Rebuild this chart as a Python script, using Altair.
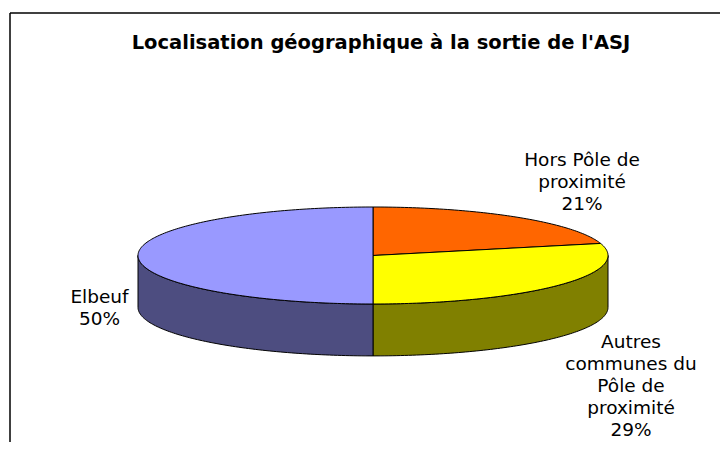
import altair as alt
import numpy as np
import pandas as pd

title = "Localisation géographique à la sortie de l'ASJ"
labels = ["Hors Pôle de\nproximité\n21%", "Autres\ncommunes du\nPôle de\nproximité\n29%", "Elbeuf\n50%"]
shares = [21, 29, 50]
top_colors = ["#FF6600", "#FFFF00", "#9999FF"]
side_colors = ["#804000", "#808000", "#4D4D80"]

OX, OY = 8, 48            # image position of the plot area's corner
W, H = 712, 394
DEPTH = 1.07              # height of the pie wall, in units of the flattened radius
FONT = "DejaVu Sans"

x_scale = alt.Scale(domain=[-1, 1], range=[138 - OX, 608 - OX])
y_scale = alt.Scale(domain=[-1, 1], range=[304 - OY, 207 - OY])
x_enc = alt.X("x:Q", scale=x_scale, axis=None)
y_enc = alt.Y("y:Q", scale=y_scale, axis=None)


def piece(points, fill):
    df = pd.DataFrame(points, columns=["x", "y"])
    df["i"] = range(len(df))
    return alt.Chart(df).mark_line(
        fill=fill, stroke="#000000", strokeWidth=1, interpolate="linear", clip=False
    ).encode(x=x_enc, y=y_enc, order="i:Q")


def arc(a0, a1, drop=0.0):
    t = np.linspace(a0, a1, max(2, int(abs(a1 - a0) * 60)))
    return list(zip(np.sin(t), np.cos(t) - drop))


edges = 2 * np.pi * np.cumsum([0] + shares) / sum(shares)
layers = []

# walls: only the part of each slice that faces the viewer
for k in range(len(shares)):
    a0, a1 = max(edges[k], np.pi / 2), min(edges[k + 1], 3 * np.pi / 2)
    if a1 > a0:
        top = arc(a0, a1)
        low = arc(a1, a0, DEPTH)
        layers.append(piece(top + low + top[:1], side_colors[k]))

# top faces
for k in range(len(shares)):
    a = arc(edges[k], edges[k + 1])
    layers.append(piece([(0, 0)] + a + [(0, 0)], top_colors[k]))

# frame: only the top and left edges are in the picture
layers.append(alt.Chart(pd.DataFrame({"a": [0]})).mark_rule(color="#000000", strokeWidth=1.5).encode(
    x=alt.value(10 - OX), x2=alt.value(720 - OX), y=alt.value(13 - OY)))
layers.append(alt.Chart(pd.DataFrame({"a": [0]})).mark_rule(color="#000000", strokeWidth=1.5).encode(
    x=alt.value(10 - OX), y=alt.value(13 - OY), y2=alt.value(442 - OY)))

# data labels
label_pos = [(582, 151), (631, 333), (99.5, 288)]
for text, (px, py) in zip(labels, label_pos):
    layers.append(alt.Chart(pd.DataFrame({"t": [text]})).mark_text(
        font=FONT, fontSize=18.5, color="#000000", align="center", baseline="top",
        lineBreak="\n", lineHeight=22).encode(
        text="t:N", x=alt.value(px - OX), y=alt.value(py - OY)))

chart = alt.layer(*layers).properties(
    width=W, height=H,
    title=alt.TitleParams(title, anchor="middle", font=FONT, fontSize=19.5,
                          fontWeight="bold", color="#000000", offset=-41, dx=17),
    padding={"left": 0, "top": 40, "right": 0, "bottom": 0},
    autosize=alt.AutoSizeParams(type="none"),
).configure_view(stroke=None)

chart.save("out.html", embed_options={"renderer": "svg", "actions": False})
